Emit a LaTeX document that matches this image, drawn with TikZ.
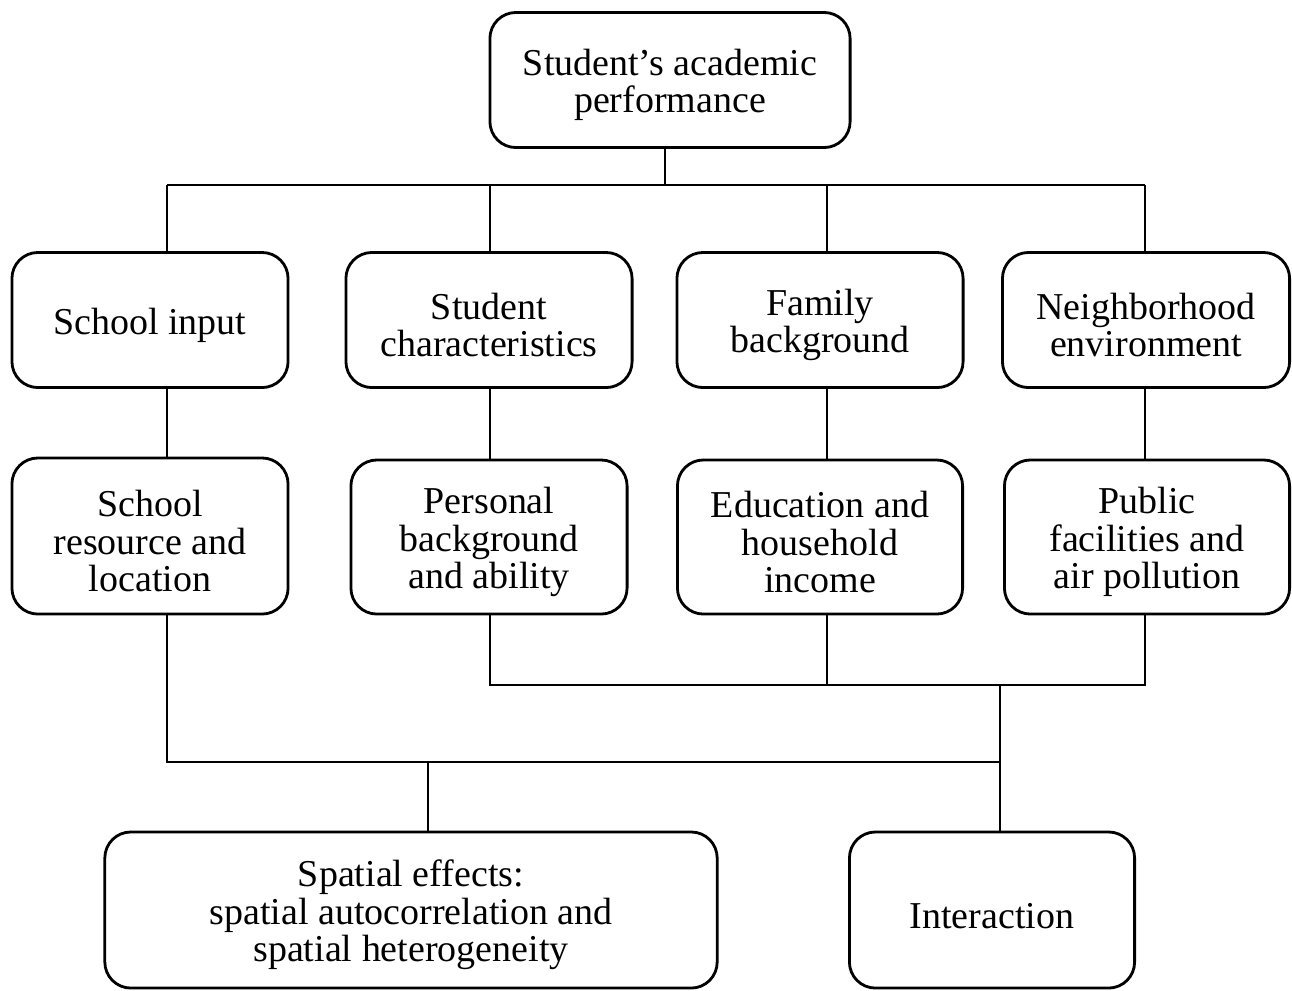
\documentclass[tikz,border=0pt]{standalone}
\usepackage{fontspec}
\setmainfont{Liberation Serif}
\usepackage{tikz}
\usetikzlibrary{calc}

\begin{document}
\begin{tikzpicture}[x=0.01cm, y=-0.01cm,
  every node/.style={font=\fontsize{10.8}{10.6}\selectfont, align=flush center,
    execute at begin node={\rule{0pt}{10.4pt}}},
  box/.style={draw, line width=0.8pt, rounded corners=0.26cm, inner sep=0pt,
    text width=2.5cm, minimum height=1.35cm},
  tall/.style={box, minimum height=1.56cm},
  link/.style={line width=0.65pt}]
  \useasboundingbox (0,0) rectangle (1292,990);

  \node[box, minimum width=3.6cm, text width=3.2cm] (perf) at (670,80) {Student's academic\\performance};

  \node[box, minimum width=2.76cm] (school) at (150,320) {School input};
  \node[box, minimum width=2.86cm] (student) at (489,320) {Student\\characteristics};
  \node[box, minimum width=2.86cm] (family) at (820,320) {Family\\background};
  \node[box, minimum width=2.87cm] (neigh) at (1146,320) {Neighborhood\\environment};

  \node[tall, minimum width=2.76cm] (resource) at (150,536) {School\\resource and\\location};
  \node[tall, minimum width=2.76cm, minimum height=1.54cm] (personal) at (489,537) {Personal\\background\\and ability};
  \node[tall, minimum width=2.85cm, minimum height=1.54cm] (income) at (820,537) {Education and\\household\\income};
  \node[tall, minimum width=2.85cm, minimum height=1.54cm] (public) at (1147,537) {Public\\facilities and\\air pollution};

  \node[tall, minimum width=6.12cm, text width=5cm] (spatial) at (411,910) {Spatial effects:\\spatial autocorrelation and\\spatial heterogeneity};
  \node[tall, minimum width=2.85cm] (inter) at (992,910) {Interaction};

  % upper tree
  \coordinate (tj) at (665,185);
  \coordinate (c1) at (167,185);
  \coordinate (c2) at (490,185);
  \coordinate (c3) at (827,185);
  \coordinate (c4) at (1145,185);
  \draw[link] (perf.south -| tj) -- (tj);
  \draw[link] (c1) -- (c4);
  \foreach \c/\a/\b in {c1/school/resource, c2/student/personal, c3/family/income, c4/neigh/public} {
    \draw[link] (\c) -- (\a.north -| \c);
    \draw[link] (\a.south -| \c) -- (\b.north -| \c);
  }

  % lower tree
  \coordinate (m2) at (490,685);
  \coordinate (m4) at (1145,685);
  \coordinate (mj) at (1000,685);
  \coordinate (lj) at (1000,762);
  \coordinate (ls) at (428,762);
  \draw[link] (personal.south -| m2) -- (m2) -- (m4) -- (public.south -| m4);
  \draw[link] (income.south -| c3) -- (c3 |- m2);
  \draw[link] (resource.south -| c1) -- (c1 |- lj) -- (lj);
  \draw[link] (mj) -- (inter.north -| mj);
  \draw[link] (ls) -- (spatial.north -| ls);
\end{tikzpicture}
\end{document}
